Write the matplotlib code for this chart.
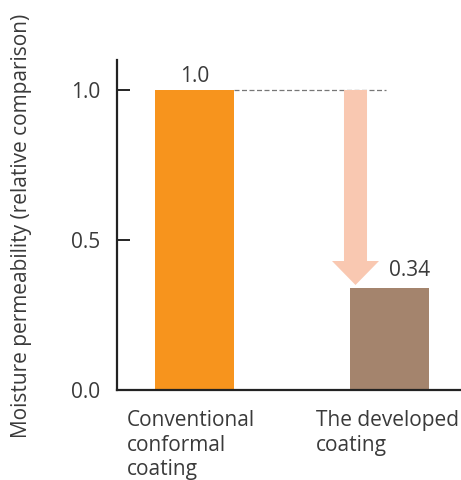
import matplotlib.pyplot as plt

categories = ["Conventional\nconformal\ncoating", "The developed\ncoating"]
values = [1.0, 0.34]
value_labels = ["1.0", "0.34"]
bar_colors = ["#f7941d", "#a4846d"]
yticks = [0.0, 0.5, 1.0]

plt.rcParams['font.family'] = ['Open Sans', 'DejaVu Sans']
text_color = "#3a3a3a"
fs = 15

fig = plt.figure(figsize=(4.61, 4.80), dpi=100)
ax = fig.add_axes([117 / 461, 90 / 480, 344 / 461, 330 / 480])

x = list(range(len(categories)))
ax.bar(x, values, width=0.405, color=bar_colors, zorder=2)

ax.set_xlim(-0.397, 1.367)
ax.set_ylim(0, 1.1)

# dashed reference line from the first bar top
ax.plot([0.2025, 0.982], [values[0], values[0]], linestyle=(0, (4, 2)),
        color="#777777", linewidth=0.9, zorder=1)

# reduction arrow
ax.arrow(0.826, values[0], 0, -(values[0] - 0.35), width=0.118, head_width=0.241,
         head_length=0.08, length_includes_head=True, color="#f9c8b1",
         linewidth=0, zorder=1)

# value labels
ax.text(0, values[0] + 0.01, value_labels[0], ha="center", va="bottom",
        fontsize=fs, color=text_color)
ax.text(1.105, values[1] + 0.025, value_labels[1], ha="center", va="bottom",
        fontsize=fs, color=text_color)

# category labels (left aligned, under the bars)
for xi, lab in zip([-0.346, 0.623], categories):
    ax.text(xi, -0.062, lab, transform=ax.get_xaxis_transform(), ha="left",
            va="top", fontsize=fs, color=text_color, linespacing=1.22)

ax.set_xticks([])
ax.set_yticks(yticks)
ax.set_yticklabels([f"{v:.1f}" for v in yticks])
ax.tick_params(axis="y", direction="in", length=9, width=1.2, labelsize=fs,
               labelcolor=text_color, pad=12)
for s in ["top", "right"]:
    ax.spines[s].set_visible(False)
for s in ["left", "bottom"]:
    ax.spines[s].set_linewidth(1.6)
    ax.spines[s].set_color("#222222")

fig.text(22 / 461, 1 - 226 / 480, "Moisture permeability (relative comparison)",
         rotation=90, ha="center", va="center", fontsize=fs, color=text_color)

fig.savefig("out.png", dpi=100)
